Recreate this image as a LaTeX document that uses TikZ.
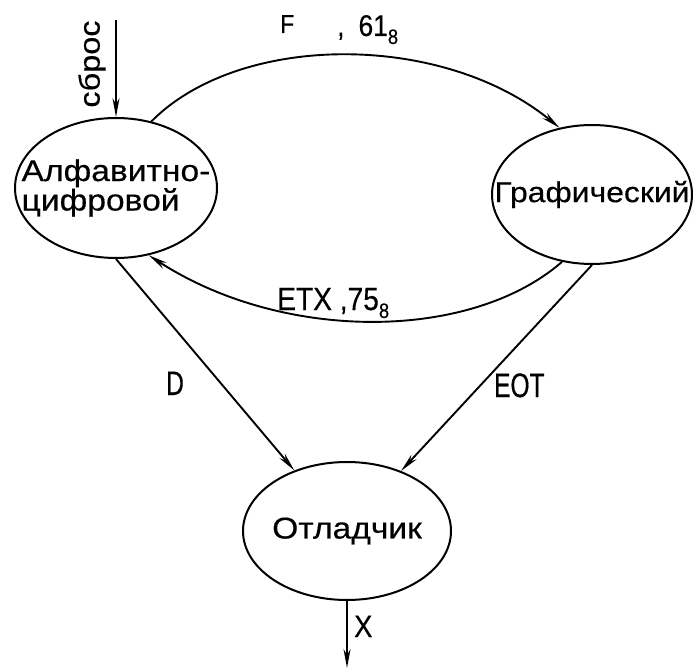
\documentclass[tikz,border=0pt]{standalone}
\usepackage{fontspec}
\setmainfont{Liberation Sans}
\newfontfamily\widefont[FakeStretch=1.12,FakeBold=0.4]{Liberation Sans}
\newfontfamily\narrowfont[FakeStretch=0.72,FakeBold=0.4]{Liberation Sans}
\newfontfamily\midfont[FakeStretch=0.88,FakeBold=0.4]{Liberation Sans}
\newcommand{\subeight}{{\fontsize{21}{21}\selectfont\raisebox{-8pt}{8}}}
\usetikzlibrary{shapes.geometric,arrows.meta}
\tikzset{
  state/.style={draw, ellipse, line width=2pt, inner sep=0pt},
  stxt/.style={font=\widefont\fontsize{30}{22}\selectfont, inner sep=0pt},
  arr/.style={line width=1.9pt, -{Stealth[length=19pt,width=7pt]}},
  lbl/.style={inner sep=0pt, anchor=base west}
}
\begin{document}
\begin{tikzpicture}[x=1pt,y=-1pt]
\useasboundingbox (0,0) rectangle (693,668);
\node[state, minimum width=202pt, minimum height=140pt,
  label={[stxt, align=left]center:Алфавитно-\\цифровой}] (A) at (116,188) {};
\node[state, minimum width=200pt, minimum height=139pt,
  label={[stxt, font=\widefont\fontsize{28.5}{22}\selectfont]center:Графический}] (G) at (592,194.5) {};
\node[state, minimum width=208pt, minimum height=138pt,
  label={[stxt]center:Отладчик}] (O) at (347,531) {};
\coordinate (R) at (116,20);
\coordinate (Xe) at (347,668);
\draw[arr] (R) -- (A.north);
\node[inner sep=0pt, rotate=90, font=\widefont\fontsize{29}{30}\selectfont] (rs) at (92,64) {сброс};
\draw[arr] (A.62) .. controls (240,32) and (443,32) .. (G.116);
\node[lbl, font=\midfont\fontsize{26}{26}\selectfont] (lf) at (280,33) {F};
\node[lbl, font=\midfont\fontsize{30}{26}\selectfont] (l61) at (337,36) {,\hspace{14pt}61\subeight};
\draw[arr] (G.-114) .. controls (470,342) and (282,342) .. (A.-64);
\node[lbl, font=\midfont\fontsize{32}{26}\selectfont] (letx) at (277,310) {ETX ,75\subeight};
\draw[arr] (A.south) -- (O.131);
\node[lbl, font=\narrowfont\fontsize{34}{26}\selectfont] (ld) at (166,395) {D};
\node[lbl, font=\narrowfont\fontsize{34}{26}\selectfont] (leot) at (494,397) {EOT};
\draw[arr] (G.south) -- (O.48);
\draw[arr] (O.south) -- (Xe);
\node[lbl, font=\midfont\fontsize{31}{26}\selectfont] (lx) at (354,637) {X};
\end{tikzpicture}
\end{document}
